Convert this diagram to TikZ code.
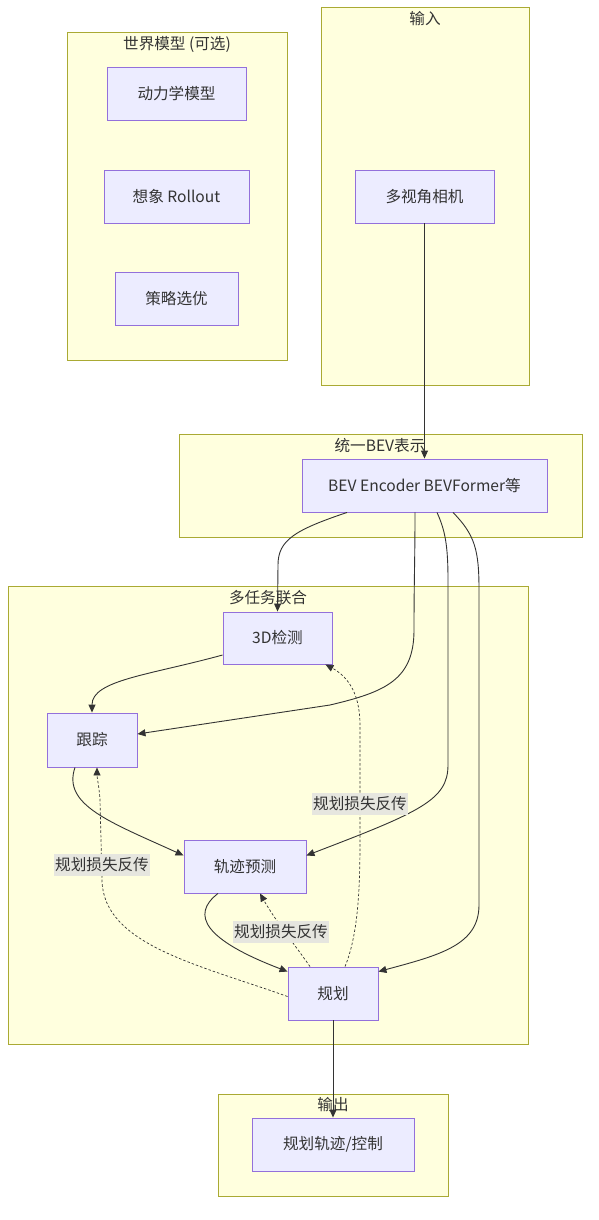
\documentclass[tikz,border=0pt]{standalone}
\usepackage{fontspec}
\setmainfont{Noto Sans CJK SC}
\usetikzlibrary{arrows.meta,calc}
\definecolor{clfill}{HTML}{FFFFDE}
\definecolor{cldraw}{HTML}{AAAA33}
\definecolor{ndfill}{HTML}{ECECFF}
\definecolor{nddraw}{HTML}{9370DB}
\definecolor{txt}{HTML}{333333}
\definecolor{lblbg}{HTML}{E6E6DF}
\tikzset{
  cluster/.style={draw=cldraw, fill=clfill, line width=0.9pt, inner sep=0pt},
  box/.style={draw=nddraw, fill=ndfill, line width=0.9pt, inner sep=0pt, text=txt,
    font=\fontsize{15.6}{18}\selectfont},
  ctitle/.style={text=txt, font=\fontsize{15.6}{18}\selectfont, inner sep=1pt},
  arr/.style={draw=txt, line width=0.9pt, -{Triangle[length=8pt,width=7pt]}},
  darr/.style={draw=txt, line width=0.7pt, dash pattern=on 2.5pt off 2pt, -{Triangle[length=8pt,width=7pt]}},
  elabel/.style={fill=lblbg, text=txt, font=\fontsize{15.6}{18}\selectfont, inner sep=1.5pt, minimum height=22pt}
}
\begin{document}
\begin{tikzpicture}[x=1pt,y=-1pt]
\useasboundingbox[fill=white] (0,0) rectangle (598,1220);
% clusters
\node[cluster, minimum width=220pt, minimum height=328pt] (cWM) at (177,196) {};
\node[cluster, minimum width=208pt, minimum height=378pt] (cIN) at (425,196) {};
\node[cluster, minimum width=403pt, minimum height=103pt] (cBEV) at (380.5,485.5) {};
\node[cluster, minimum width=520pt, minimum height=458pt] (cMT) at (268,815) {};
\node[cluster, minimum width=230pt, minimum height=102pt] (cOUT) at (333,1145) {};
\node[ctitle] (tWM) at (177,44) {世界模型 (可选)};
\node[ctitle] (tIN) at (425,19) {输入};
\node[ctitle] (tBEV) at (380,446) {统一BEV表示};
\node[ctitle] (tMT) at (268,598) {多任务联合};
% nodes
\node[box, minimum width=139pt, minimum height=53pt] (dyn) at (176.5,93.5) {动力学模型};
\node[box, minimum width=145pt, minimum height=53pt] (roll) at (176.5,196.5) {想象 Rollout};
\node[box, minimum width=123pt, minimum height=53pt] (pol) at (176.5,298.5) {策略选优};
\node[box, minimum width=139pt, minimum height=53pt] (cam) at (424.5,196.5) {多视角相机};
\node[box, minimum width=245pt, minimum height=53pt] (bev) at (424.5,485.5) {BEV Encoder BEVFormer等};
\node[box, minimum width=109pt, minimum height=52pt] (det) at (277.5,638) {3D检测};
\node[box, minimum width=90pt, minimum height=54pt] (trk) at (92,740) {跟踪};
\node[box, minimum width=122pt, minimum height=53pt] (pred) at (245,866.5) {轨迹预测};
\node[box, minimum width=90pt, minimum height=53pt] (plan) at (333,993.5) {规划};
% solid edges
\draw[arr] (cam.south) -- (bev.north);
\draw[arr] ([xshift=-77.5pt]bev.south) .. controls (295,530) and (278,540) .. (278,565) -- (det.north);
\draw[arr] ([xshift=-9.5pt]bev.south) .. controls (415,560) and (414,580) .. (414,630)
  .. controls (414,680) and (385,692) .. (330,705) -- ([yshift=6pt]trk.east);
\draw[arr] ([xshift=12.5pt]bev.south) .. controls (445,530) and (448,545) .. (448,580) -- (448,765)
  .. controls (448,800) and (420,812) .. ([yshift=11pt]pred.east);
\draw[arr] ([xshift=28.5pt]bev.south) .. controls (475,535) and (479,550) .. (479,590) -- (479,905)
  .. controls (479,945) and (440,955) .. ([yshift=-5pt]plan.north east);
\draw[arr] ([yshift=-17pt]det.west) .. controls (150,675) and (92,680) .. (trk.north);
\draw[arr] ([xshift=-17pt]trk.south) .. controls (62,805) and (110,822) .. ([yshift=11pt]pred.west);
\draw[arr] ([xshift=-27pt]pred.south) .. controls (190,915) and (205,940) .. ([yshift=-5pt]plan.north west);
% dashed edges
\draw[darr] ([xshift=12pt]plan.north) .. controls (358,935) and (360,890) .. (360,840) -- (360,725)
  .. controls (360,690) and (345,675) .. ([xshift=-7pt]det.south east);
\draw[darr] ([yshift=-3pt]plan.west) .. controls (200,965) and (103,945) .. (102,880) -- (100,800)
  .. controls (99,785) and (97,778) .. ([xshift=5pt]trk.south);
\draw[darr] ([xshift=-23pt]plan.north) .. controls (295,945) and (275,920) .. ([xshift=15pt]pred.south);
\node[elabel] (l1) at (360,804) {规划损失反传};
\node[elabel] (l2) at (102,865) {规划损失反传};
\node[elabel] (l3) at (281,932) {规划损失反传};
% output
\node[box, minimum width=162pt, minimum height=53pt] (out) at (333,1144.5) {规划轨迹/控制};
\node[ctitle] (tOUT) at (333,1105) {输出};
\draw[arr] (plan.south) -- (out.north);
\end{tikzpicture}
\end{document}
